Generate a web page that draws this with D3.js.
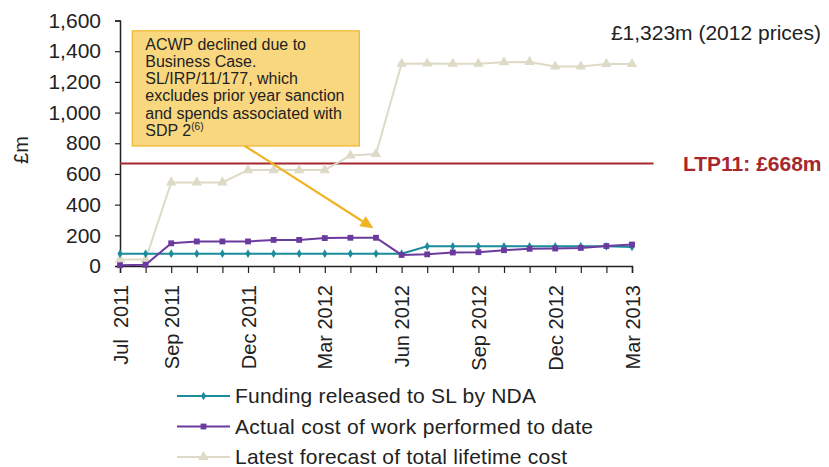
<!DOCTYPE html>
<html>
<head>
<meta charset="utf-8">
<script src="https://cdn.jsdelivr.net/npm/d3@7"></script>
<style>
  body { margin: 0; background: #fff; }
  svg { display: block; font-family: Arial, "Liberation Sans", sans-serif; }
</style>
</head>
<body>
<div class="chart"></div>
<script>
// months from Jul 2011 to Mar 2013
const months = ["Jul 2011", "Aug 2011", "Sep 2011", "Oct 2011", "Nov 2011", "Dec 2011",
  "Jan 2012", "Feb 2012", "Mar 2012", "Apr 2012", "May 2012", "Jun 2012",
  "Jul 2012", "Aug 2012", "Sep 2012", "Oct 2012", "Nov 2012", "Dec 2012",
  "Jan 2013", "Feb 2013", "Mar 2013"];

// £m values
const funding = [80, 80, 80, 80, 80, 80, 80, 80, 80, 80, 80, 80,
  128, 128, 128, 128, 128, 128, 128, 128, 124];
const acwp = [5, 8, 148, 160, 160, 160, 170, 170, 182, 184, 184, 72,
  76, 88, 90, 103, 112, 114, 118, 130, 140];
const forecast = [42, 42, 545, 545, 545, 625, 625, 625, 625, 720, 730, 1318,
  1320, 1318, 1318, 1328, 1330, 1300, 1300, 1316, 1316];

const ltp11 = 668;

// tick labels
const xTickIdx = [0, 2, 5, 8, 11, 14, 17, 20];
const xTickLabels = ["Jul  2011", "Sep 2011", "Dec 2011", "Mar 2012", "Jun 2012",
  "Sep 2012", "Dec 2012", "Mar 2013"];
const yTicks = [0, 200, 400, 600, 800, 1000, 1200, 1400, 1600];

const seriesNames = ["Funding released to SL by NDA", "Actual cost of work performed to date",
  "Latest forecast of total lifetime cost"];

const annotationLines = ["ACWP declined due to", "Business Case.", "SL/IRP/11/177, which",
  "excludes prior year sanction", "and spends associated with", "SDP 2"];

const W = 829, H = 467;
const colors = { funding: "#1B8C9C", acwp: "#6B3A9E", forecast: "#DEDAC8", ltp: "#A8262D" };

const svg = d3.select(".chart").append("svg")
  .attr("width", W)
  .attr("height", H);

const x = d3.scaleLinear().domain([0, months.length - 1]).range([120, 632]);
const y = d3.scaleLinear().domain([0, 1600]).range([266, 20.5]);

// Y axis
const yAxis = svg.append("g")
  .attr("transform", "translate(" + x(0) + ",0)")
  .call(d3.axisLeft(y).tickValues(yTicks).tickFormat(d3.format(",")).tickSize(5).tickPadding(14));
yAxis.select(".domain").attr("stroke", "#222").attr("stroke-width", 1.5);
yAxis.selectAll(".tick line").attr("stroke", "#222").attr("stroke-width", 1.2);
yAxis.selectAll("text").style("font-size", "21px").attr("fill", "#222");

svg.append("text")
  .attr("transform", "translate(28,150) rotate(-90)")
  .attr("text-anchor", "middle")
  .style("font-size", "20px")
  .attr("fill", "#222")
  .text("£m");

// X axis: a tick each month, label every third
const xAxis = svg.append("g")
  .attr("transform", "translate(0," + y(0) + ")")
  .call(d3.axisBottom(x).tickValues(d3.range(months.length)).tickSize(7)
    .tickFormat(function (d) {
      const k = xTickIdx.indexOf(d);
      return k >= 0 ? xTickLabels[k] : "";
    }));
xAxis.select(".domain").attr("stroke", "#222").attr("stroke-width", 1.5);
xAxis.selectAll(".tick line").attr("stroke", "#222").attr("stroke-width", 1.2);
xAxis.selectAll("text")
  .style("font-size", "20px")
  .style("white-space", "pre")
  .attr("fill", "#222")
  .attr("text-anchor", "end")
  .attr("dy", "0.35em")
  .attr("transform", "translate(0,19) rotate(-90)")
  .attr("x", 0)
  .attr("y", 0);

// LTP11 line
svg.append("line")
  .attr("x1", x(0)).attr("x2", x(20.84))
  .attr("y1", y(ltp11)).attr("y2", y(ltp11))
  .attr("stroke", colors.ltp)
  .attr("stroke-width", 2);

svg.append("text")
  .attr("x", 683)
  .attr("y", y(ltp11) + 7.5)
  .style("font-size", "21px")
  .style("font-weight", "bold")
  .attr("fill", colors.ltp)
  .text("LTP11: £" + ltp11 + "m");

svg.append("text")
  .attr("x", 821)
  .attr("y", 40)
  .attr("text-anchor", "end")
  .style("font-size", "21px")
  .attr("fill", "#222")
  .text("£1,323m (2012 prices)");

// series
const line = d3.line().x(function (d, i) { return x(i); }).y(function (d) { return y(d); });

function drawSeries(values, color, symbol, size) {
  svg.append("path")
    .datum(values)
    .attr("fill", "none")
    .attr("stroke", color)
    .attr("stroke-width", 2)
    .attr("d", line);
  svg.append("g").selectAll("path")
    .data(values)
    .enter()
    .append("path")
    .attr("transform", function (d, i) { return "translate(" + x(i) + "," + y(d) + ")"; })
    .attr("d", d3.symbol().type(symbol).size(size))
    .attr("fill", color);
}

drawSeries(forecast, colors.forecast, d3.symbolTriangle, 48);
drawSeries(funding, colors.funding, d3.symbolDiamond, 22);
drawSeries(acwp, colors.acwp, d3.symbolSquare, 34);

// annotation box + arrow
const boxX0 = x(0.48), boxX1 = x(9.35), boxY0 = y(1533), boxY1 = y(782);
svg.append("rect")
  .attr("x", boxX0).attr("y", boxY0)
  .attr("width", boxX1 - boxX0).attr("height", boxY1 - boxY0)
  .attr("fill", "#F9D77F")
  .attr("stroke", "#F1B52E")
  .attr("stroke-width", 1.2);

const ann = svg.append("text")
  .style("font-size", "16px")
  .attr("fill", "#222");
annotationLines.forEach(function (t, i) {
  ann.append("tspan")
    .attr("x", boxX0 + 13)
    .attr("y", boxY0 + 18.8 + i * 17.3)
    .text(t);
  if (i === annotationLines.length - 1) {
    ann.append("tspan").attr("dy", -6).style("font-size", "10px").text("(6)");
  }
});

const ax0 = x(4.88), ay0 = y(782), ax1 = x(9.9), ay1 = y(246);
const ang = Math.atan2(ay1 - ay0, ax1 - ax0);
const headLen = 13, headW = 6;
const bx = ax1 - headLen * Math.cos(ang), by = ay1 - headLen * Math.sin(ang);
svg.append("line")
  .attr("x1", ax0).attr("y1", ay0).attr("x2", bx).attr("y2", by)
  .attr("stroke", "#F0B323").attr("stroke-width", 2.2);
svg.append("polygon")
  .attr("points", [
    [ax1, ay1],
    [bx + headW * Math.sin(ang), by - headW * Math.cos(ang)],
    [bx - headW * Math.sin(ang), by + headW * Math.cos(ang)]
  ].map(function (p) { return p.join(","); }).join(" "))
  .attr("fill", "#F0B323");

// legend
const legendData = [
  { label: seriesNames[0], color: colors.funding, symbol: d3.symbolDiamond, size: 22, len: 301 },
  { label: seriesNames[1], color: colors.acwp, symbol: d3.symbolSquare, size: 34, len: 358 },
  { label: seriesNames[2], color: colors.forecast, symbol: d3.symbolTriangle, size: 48, len: 332 }
];
const legend = svg.append("g").attr("transform", "translate(177,396)");
const items = legend.selectAll("g")
  .data(legendData)
  .enter()
  .append("g")
  .attr("transform", function (d, i) { return "translate(0," + (i * 30.5) + ")"; });
items.append("line")
  .attr("x1", 0).attr("x2", 53)
  .attr("stroke", function (d) { return d.color; })
  .attr("stroke-width", 2);
items.append("path")
  .attr("transform", "translate(26.5,0)")
  .attr("d", function (d) { return d3.symbol().type(d.symbol).size(d.size)(); })
  .attr("fill", function (d) { return d.color; });
items.append("text")
  .attr("x", 58)
  .attr("dy", "0.35em")
  .attr("textLength", function (d) { return d.len; })
  .attr("lengthAdjust", "spacing")
  .style("font-size", "21px")
  .attr("fill", "#222")
  .text(function (d) { return d.label; });
</script>
</body>
</html>
